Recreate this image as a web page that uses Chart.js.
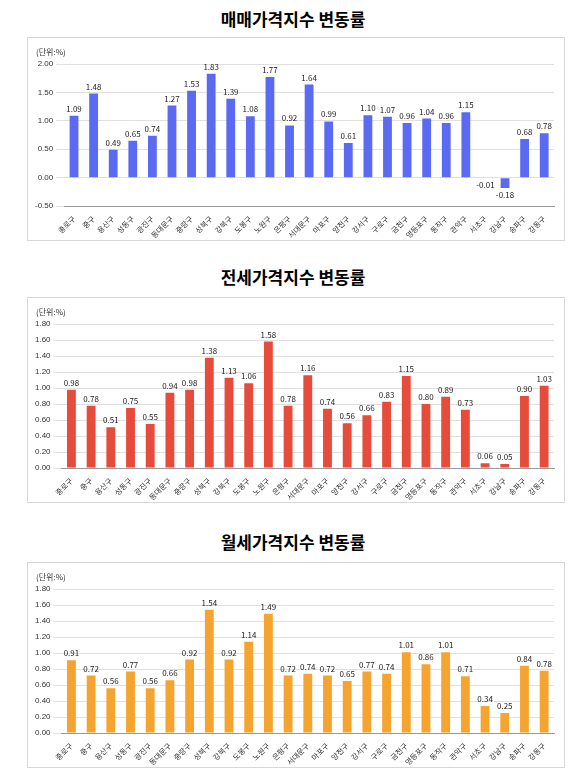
<!DOCTYPE html><html><head><meta charset="utf-8">
<script src="https://cdn.jsdelivr.net/npm/chart.js@4"></script>
<style>
body{margin:0;background:#fff;width:586px;height:772px;position:relative;font-family:"Noto Sans CJK KR",sans-serif}
.t{position:absolute;left:0;width:586px;text-align:center;font-size:17px;font-weight:bold;font-family:"Noto Sans CJK KR"}
.b{position:absolute;left:27px;width:538px;border:1px solid #d8d8d8;box-sizing:border-box}
.u{position:absolute;left:8px;top:8px;font-size:8px;color:#333}
</style></head><body>
<div class="t" style="top:6px">매매가격지수 변동률</div>
<div class="b" style="top:37px;height:204px"><div class="u">(단위:%)</div><canvas id="c1"></canvas></div>
<div class="t" style="top:264px">전세가격지수 변동률</div>
<div class="b" style="top:297px;height:206px"><div class="u">(단위:%)</div><canvas id="c2"></canvas></div>
<div class="t" style="top:529px">월세가격지수 변동률</div>
<div class="b" style="top:562px;height:206px"><div class="u">(단위:%)</div><canvas id="c3"></canvas></div>
<script>
const categories=["종로구","중구","용산구","성동구","광진구","동대문구","중랑구","성북구","강북구","도봉구","노원구","은평구","서대문구","마포구","양천구","강서구","구로구","금천구","영등포구","동작구","관악구","서초구","강남구","송파구","강동구"];
const saleValues=[1.09,1.48,0.49,0.65,0.74,1.27,1.53,1.83,1.39,1.08,1.77,0.92,1.64,0.99,0.61,1.10,1.07,0.96,1.04,0.96,1.15,-0.01,-0.18,0.68,0.78];
const jeonseValues=[0.98,0.78,0.51,0.75,0.55,0.94,0.98,1.38,1.13,1.06,1.58,0.78,1.16,0.74,0.56,0.66,0.83,1.15,0.80,0.89,0.73,0.06,0.05,0.90,1.03];
const monthlyValues=[0.91,0.72,0.56,0.77,0.56,0.66,0.92,1.54,0.92,1.14,1.49,0.72,0.74,0.72,0.65,0.77,0.74,1.01,0.86,1.01,0.71,0.34,0.25,0.84,0.78];
const labelPlugin={id:'lbl',afterDatasetsDraw(ch){const c=ch.ctx;c.save();c.font='8px "Noto Sans CJK KR"';c.fillStyle='#222';c.textAlign='center';
ch.getDatasetMeta(0).data.forEach((b,i)=>{const v=ch.data.datasets[0].data[i];if(v<0){c.textBaseline='top';c.fillText(v.toFixed(2),b.x,b.y+3);}else{c.textBaseline='bottom';c.fillText(v.toFixed(2),b.x,b.y-3);}});c.restore();}};
function mk(id,data,color,min,max,step,h){
const cv=document.getElementById(id);cv.style.width='536px';cv.style.height=h+'px';
new Chart(cv,{type:'bar',data:{labels:categories,datasets:[{data,backgroundColor:color,barPercentage:0.45,categoryPercentage:1}]},
options:{responsive:false,maintainAspectRatio:false,animation:false,layout:{padding:{top:26,right:10,left:4,bottom:0}},
plugins:{legend:{display:false},tooltip:{enabled:false}},
scales:{x:{grid:{display:false},border:{color:'#999'},ticks:{padding:0,color:'#333',font:{size:7.5,family:'Noto Sans CJK KR'},maxRotation:45,minRotation:45,autoSkip:false}},
y:{min,max,ticks:{stepSize:step,color:'#333',font:{size:8},callback:v=>v.toFixed(2)},grid:{color:'#e0e0e0'},border:{display:false}}}},plugins:[labelPlugin]});}
mk('c1',saleValues,'#5a6af2',-0.5,2.0,0.5,202);
mk('c2',jeonseValues,'#e64b3c',0,1.8,0.2,204);
mk('c3',monthlyValues,'#f5a52f',0,1.8,0.2,204);
</script></body></html>
